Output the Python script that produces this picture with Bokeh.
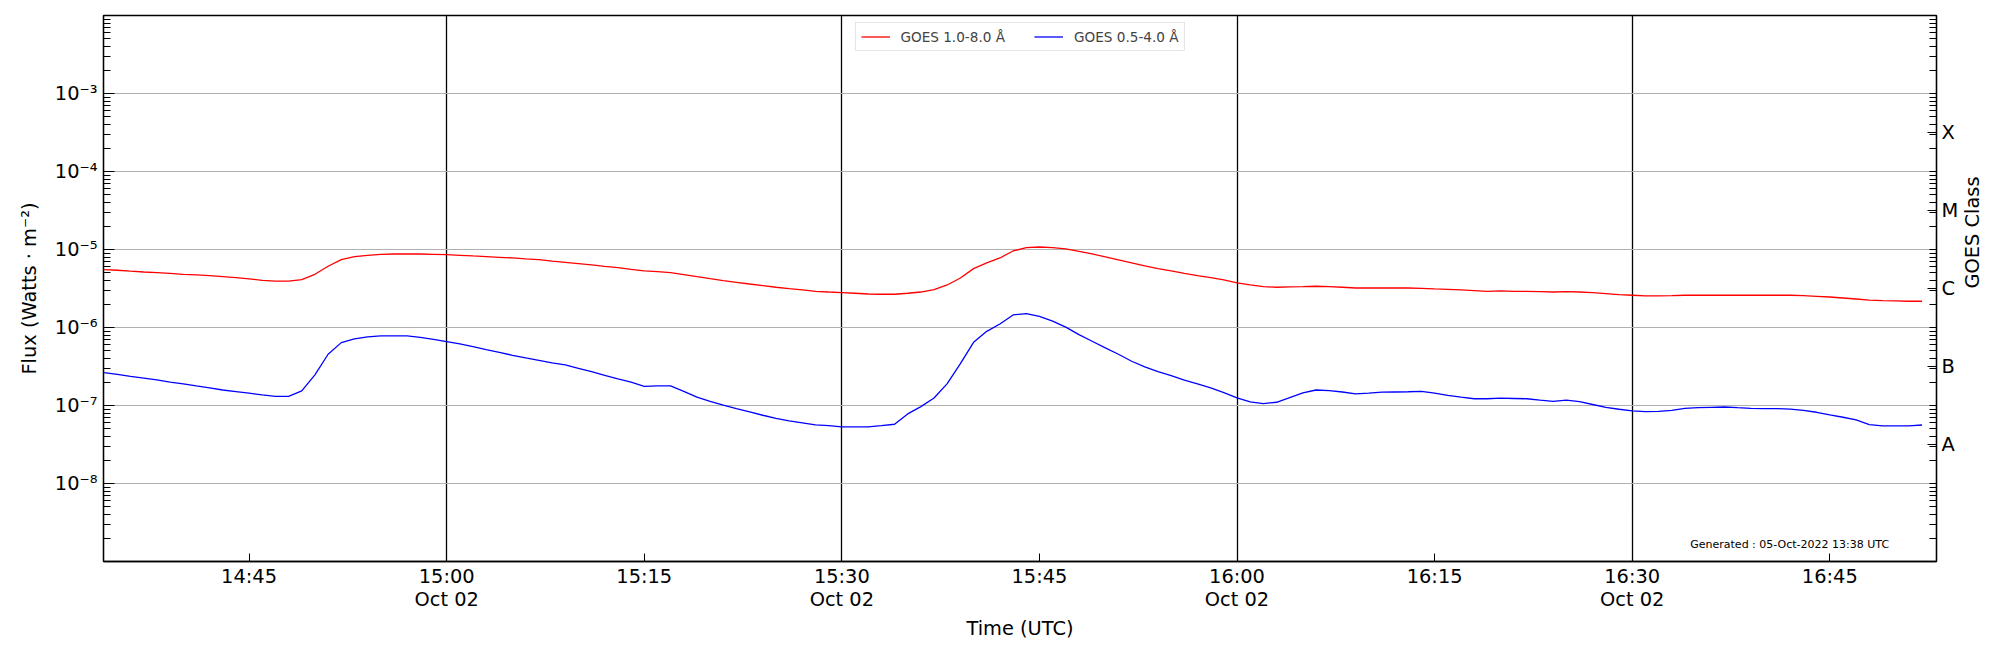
import numpy as np
from bokeh.plotting import figure
from bokeh.models import (Range1d, FixedTicker, LogAxis, CustomJSTickFormatter,
                          Label, Legend, LegendItem)
from bokeh.embed import file_html
from bokeh.resources import INLINE

# ---------------- data ----------------
date_label = "Oct 02"
start_minute = 14 * 60 + 34          # first sample 14:34 UTC, 1-minute cadence

# GOES 1.0-8.0 A flux, units of 1e-6 W m^-2
xrsb_e6 = [5.52, 5.42, 5.28, 5.15, 5.06, 4.93, 4.81, 4.72, 4.63, 4.49,
           4.35, 4.19, 4.03, 3.92, 3.92, 4.11, 4.81, 6.10, 7.41, 8.10,
           8.43, 8.67, 8.75, 8.80, 8.75, 8.67, 8.60, 8.43, 8.26, 8.10,
           7.94, 7.79, 7.56, 7.41, 7.10, 6.85, 6.59, 6.34, 6.09, 5.86,
           5.57, 5.31, 5.20, 5.06, 4.77, 4.49, 4.23, 3.99, 3.80, 3.61,
           3.44, 3.28, 3.15, 3.03, 2.91, 2.85, 2.80, 2.75, 2.69, 2.67,
           2.67, 2.75, 2.85, 3.06, 3.51, 4.31, 5.69, 6.72, 7.79, 9.58,
           10.57, 10.77, 10.57, 10.16, 9.48, 8.77, 8.02, 7.34, 6.72, 6.15,
           5.69, 5.31, 4.95, 4.62, 4.36, 4.07, 3.73, 3.51, 3.34, 3.28,
           3.31, 3.34, 3.38, 3.34, 3.28, 3.21, 3.21, 3.21, 3.21, 3.21,
           3.18, 3.12, 3.09, 3.03, 2.97, 2.91, 2.94, 2.91, 2.90, 2.88,
           2.85, 2.88, 2.85, 2.80, 2.72, 2.64, 2.59, 2.54, 2.54, 2.56,
           2.59, 2.59, 2.59, 2.59, 2.59, 2.59, 2.59, 2.59, 2.59, 2.56,
           2.51, 2.46, 2.39, 2.32, 2.25, 2.21, 2.19, 2.17, 2.17]

# GOES 0.5-4.0 A flux, units of 1e-7 W m^-2
xrsa_e7 = [2.64, 2.51, 2.37, 2.25, 2.13, 2.00, 1.89, 1.78, 1.68, 1.58,
           1.51, 1.44, 1.37, 1.31, 1.31, 1.54, 2.47, 4.54, 6.40, 7.13,
           7.57, 7.80, 7.83, 7.80, 7.48, 7.06, 6.59, 6.15, 5.69, 5.20,
           4.81, 4.40, 4.07, 3.80, 3.51, 3.31, 3.00, 2.72, 2.44, 2.19,
           1.99, 1.76, 1.78, 1.78, 1.52, 1.28, 1.13, 1.01, 0.913, 0.827,
           0.750, 0.686, 0.634, 0.598, 0.564, 0.552, 0.531, 0.531, 0.531, 0.552,
           0.575, 0.780, 0.967, 1.25, 1.91, 3.44, 6.46, 8.93, 11.1, 14.5,
           15.1, 13.9, 12.1, 10.1, 8.10, 6.66, 5.47, 4.54, 3.69, 3.12,
           2.72, 2.42, 2.12, 1.89, 1.68, 1.46, 1.25, 1.11, 1.06, 1.10,
           1.26, 1.45, 1.58, 1.55, 1.49, 1.41, 1.44, 1.48, 1.49, 1.50,
           1.52, 1.44, 1.35, 1.28, 1.22, 1.22, 1.24, 1.23, 1.22, 1.17,
           1.13, 1.17, 1.12, 1.03, 0.948, 0.895, 0.852, 0.835, 0.843, 0.867,
           0.920, 0.937, 0.948, 0.957, 0.937, 0.920, 0.910, 0.910, 0.900, 0.867,
           0.819, 0.757, 0.707, 0.653, 0.569, 0.547, 0.547, 0.547, 0.562]

tick_times = ["14:45", "15:00", "15:15", "15:30", "15:45",
              "16:00", "16:15", "16:30", "16:45"]
boundary_times = ["15:00", "15:30", "16:00", "16:30"]
goes_classes = ["A", "B", "C", "M", "X"]
flux_decades = [-8, -7, -6, -5, -4, -3]
legend_long = "GOES 1.0-8.0 Å"
legend_short = "GOES 0.5-4.0 Å"
generated_text = "Generated : 05-Oct-2022 13:38 UTC"


def to_min(s):
    h, m = s.split(":")
    return int(h) * 60 + int(m)


t = start_minute + np.arange(len(xrsb_e6))
xrsb = np.array(xrsb_e6) * 1e-6
xrsa = np.array(xrsa_e7) * 1e-7

FONT = "DejaVu Sans"
TICK_FS = "19.4px"

x_start, x_end = 873.95, 1013.1

p = figure(width=1998, height=642, output_backend="svg", toolbar_location=None,
           x_range=Range1d(x_start, x_end), y_range=Range1d(1e-9, 1e-2),
           y_axis_type="log",
           min_border_left=103, min_border_right=60, min_border_top=15,
           min_border_bottom=81)
p.background_fill_color = "white"
p.border_fill_color = "white"
p.outline_line_color = "black"
p.outline_line_width = 1.3
p.outline_line_alpha = 1.0

r1 = p.line(t, xrsb, line_color="#ff0000", line_width=1.3)
r2 = p.line(t, xrsa, line_color="#0000ff", line_width=1.3)

# ---- x axis ----
tick_minutes = [to_min(s) for s in tick_times]
overrides = {}
for s, m in zip(tick_times, tick_minutes):
    overrides[m] = s + ("\n" + date_label if m % 30 == 0 else "")
xa = p.xaxis[0]
xa.ticker = FixedTicker(ticks=tick_minutes)
xa.major_label_overrides = overrides
xa.axis_label = "Time (UTC)"

# ---- y axis (left) ----
minor = [k * 10.0 ** n for n in range(-9, -2) for k in range(1, 10)]
ya = p.yaxis[0]
ya.ticker = FixedTicker(ticks=[10.0 ** d for d in flux_decades], minor_ticks=minor)
ya.formatter = CustomJSTickFormatter(code="""
const e = Math.round(Math.log10(tick));
const m = {'-':'\u207b','0':'\u2070','1':'\u00b9','2':'\u00b2','3':'\u00b3',
           '4':'\u2074','5':'\u2075','6':'\u2076','7':'\u2077','8':'\u2078','9':'\u2079'};
return '10' + String(e).split('').map(c => m[c]).join('');
""")
ya.axis_label = "Flux (Watts · m⁻²)"

# ---- right axis: GOES class ----
class_centers = list(np.logspace(-7.5, -3.5, len(goes_classes)))
ra = LogAxis(ticker=FixedTicker(ticks=class_centers, minor_ticks=minor),
             formatter=CustomJSTickFormatter(args=dict(labels=goes_classes), code="""
const i = Math.round(Math.log10(tick) + 7.5);
return (i >= 0 && i < labels.length) ? labels[i] : '';
"""))
ra.axis_label = "GOES Class"
if "axis_label_orientation" in ra.properties():
    ra.axis_label_orientation = float(np.pi / 2)
p.add_layout(ra, "right")

for ax in [xa, ya, ra]:
    ax.axis_line_color = "black"
    ax.axis_line_width = 1.3
    ax.major_tick_line_color = "black"
    ax.minor_tick_line_color = "black"
    ax.major_tick_line_width = 1
    ax.minor_tick_line_width = 1
    ax.major_tick_out = 0
    ax.minor_tick_out = 0
    ax.major_label_text_font = FONT
    ax.major_label_text_font_size = TICK_FS
    ax.major_label_text_color = "black"
    ax.axis_label_text_font = FONT
    ax.axis_label_text_font_size = TICK_FS
    ax.axis_label_text_font_style = "normal"
    ax.axis_label_text_color = "black"

xa.major_tick_in = 8
xa.minor_tick_in = 0
xa.major_label_standoff = 3
xa.axis_label_standoff = 3
xa.major_label_text_line_height = 1.0

ya.major_tick_in = 11
ya.minor_tick_in = 7
ya.major_label_standoff = 6
ya.axis_label_standoff = 11

ra.major_tick_in = 9
ra.minor_tick_in = 7
ra.major_label_standoff = 5
ra.axis_label_standoff = 11

# ---- grids ----
p.xgrid.ticker = FixedTicker(ticks=[to_min(s) for s in boundary_times])
p.xgrid.grid_line_color = "black"
p.xgrid.grid_line_width = 1.3
p.ygrid.ticker = ya.ticker
p.ygrid.grid_line_color = "#b0b0b0"
p.ygrid.grid_line_width = 1

# ---- legend ----
legend = Legend(items=[LegendItem(label=legend_long, renderers=[r1]),
                       LegendItem(label=legend_short, renderers=[r2])],
                location="top_center", orientation="horizontal",
                label_text_font=FONT, label_text_font_size="13.6px",
                glyph_width=29, glyph_height=17, label_height=17,
                label_standoff=11, spacing=29, padding=5, margin=7,
                border_line_color="#cccccc", border_line_width=1,
                background_fill_color="white", background_fill_alpha=0.8)
p.add_layout(legend)

# ---- texts ----
p.add_layout(Label(x=1009.5, y=1.66e-9, text=generated_text, text_align="right",
                   text_baseline="middle", text_font=FONT, text_font_size="11px",
                   text_color="black"))

open("out.html", "w").write(file_html(p, INLINE))
